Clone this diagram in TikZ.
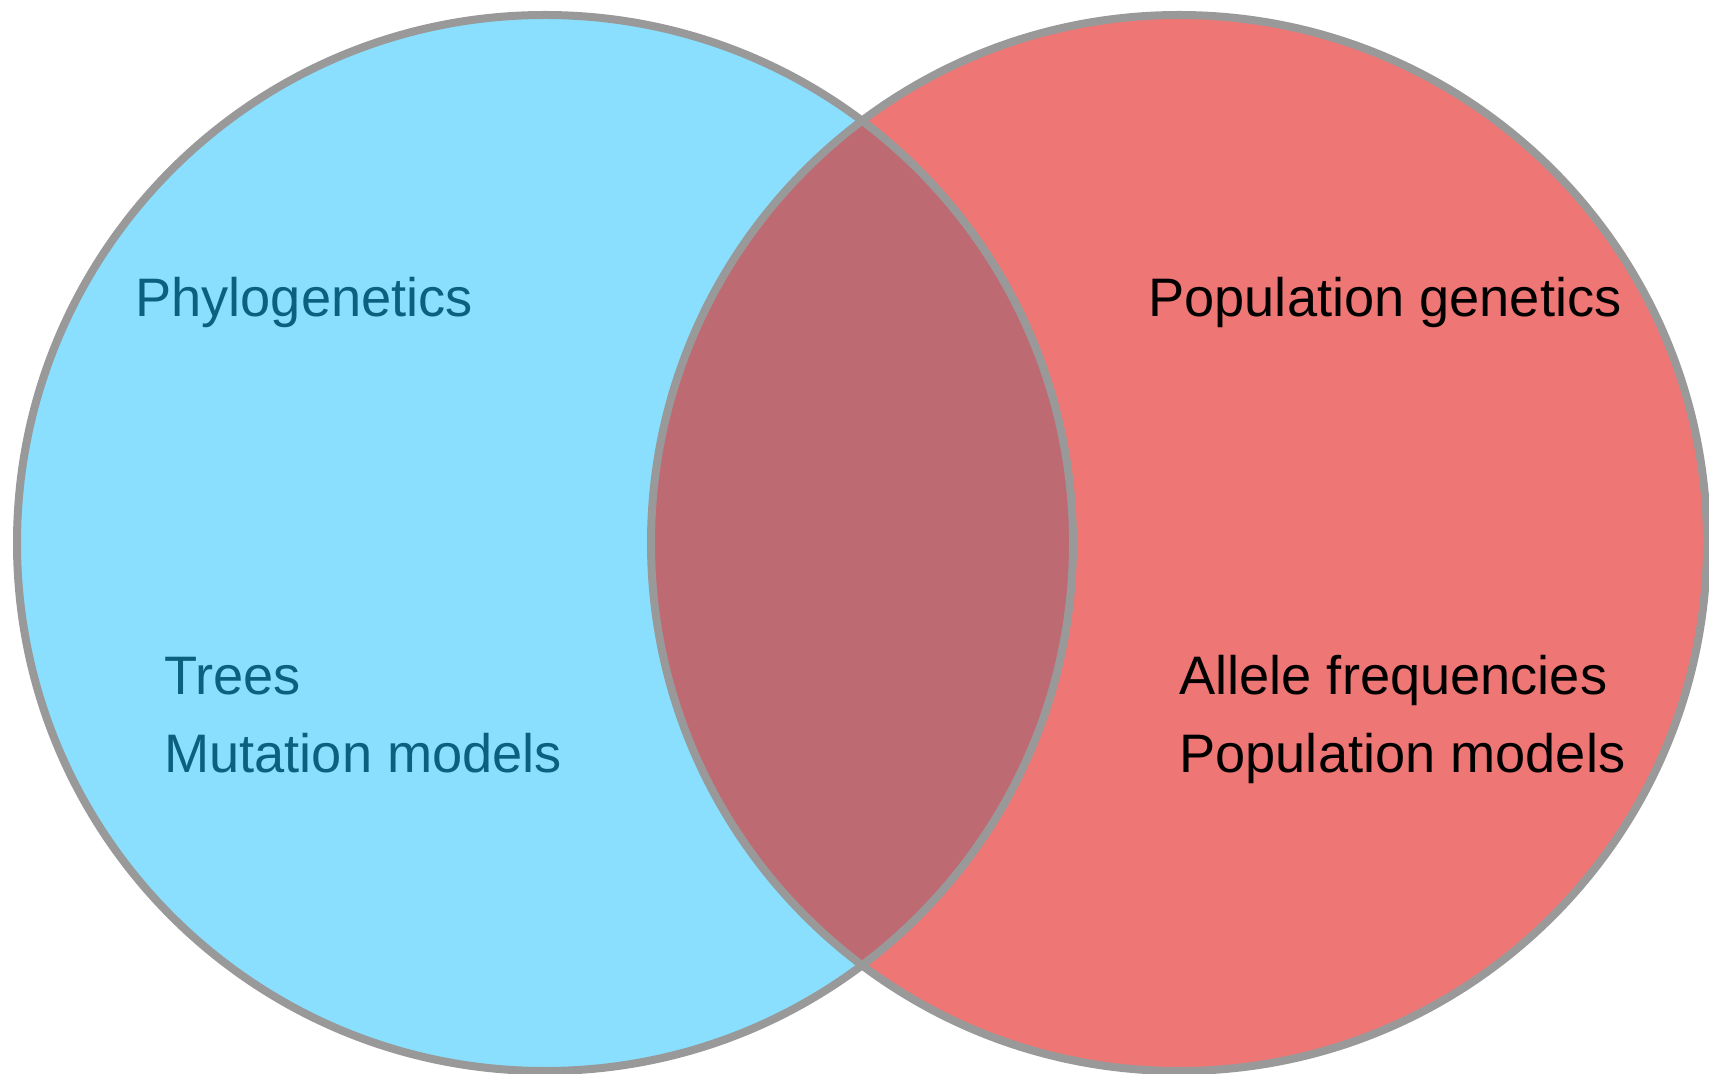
\documentclass[tikz,border=0pt]{standalone}
\usepackage{fontspec}
\setmainfont{Liberation Sans}
\definecolor{bluefill}{RGB}{138,223,254}
\definecolor{redfill}{RGB}{238,118,116}
\definecolor{overlapfill}{RGB}{190,106,115}
\definecolor{ringgray}{RGB}{153,153,153}
\definecolor{tealtext}{RGB}{13,96,125}
\tikzset{
  ring/.style={draw=ringgray, line width=4pt},
  label/.style={anchor=base west, inner sep=0pt, font=\fontsize{27.1}{33}\selectfont},
  leftlabel/.style={label, text=tealtext},
  rightlabel/.style={label, text=black}
}
\begin{document}
\begin{tikzpicture}[x=0.5pt, y=-0.5pt]
  \useasboundingbox (0,0) rectangle (1709,1074);
  % centres of the two sets
  \coordinate (L) at (545,543);
  \coordinate (R) at (1179,543);
  % fills
  \fill[bluefill] (L) circle[radius=528];
  \fill[redfill] (R) circle[radius=528];
  \begin{scope}
    \clip (L) circle[radius=528];
    \fill[overlapfill] (R) circle[radius=528];
  \end{scope}
  % outlines
  \draw[ring] (L) circle[radius=528];
  \draw[ring] (R) circle[radius=528];
  % labels
  \node[leftlabel] (phylo) at (135,317) {Phylogenetics};
  \node[leftlabel] (trees) at (164,695) {Trees};
  \node[leftlabel] (mutation) at (164,772) {Mutation models};
  \node[rightlabel] (popgen) at (1148,317) {Population genetics};
  \node[rightlabel] (allele) at (1179,695) {Allele frequencies};
  \node[rightlabel] (popmodels) at (1179,772) {Population models};
\end{tikzpicture}
\end{document}
